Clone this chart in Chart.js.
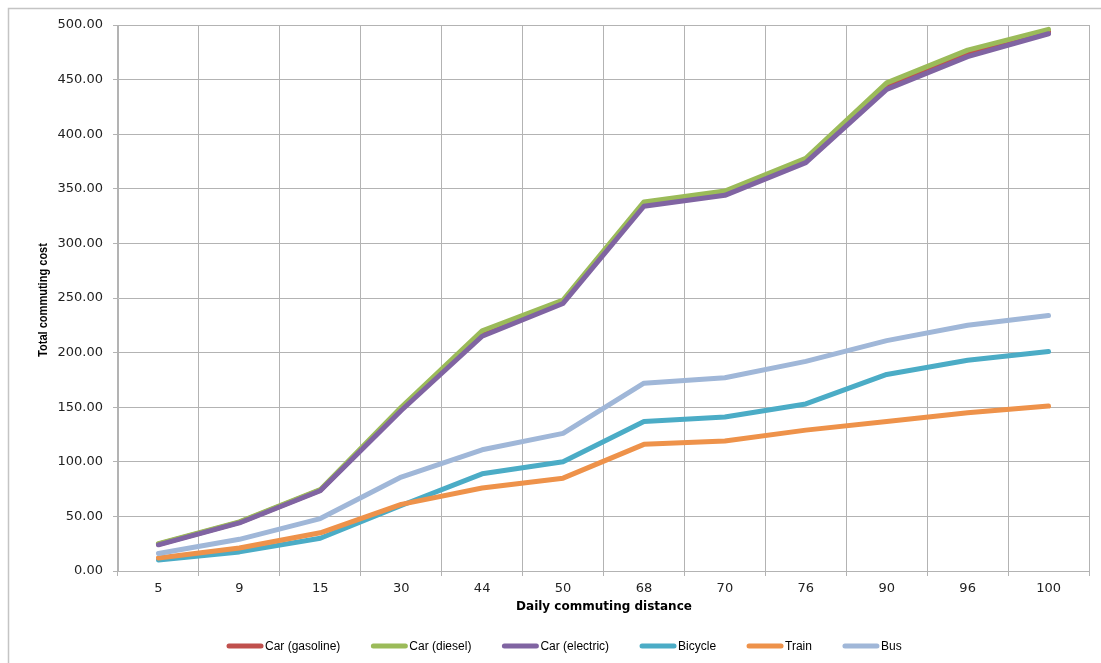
<!DOCTYPE html>
<html>
<head>
<meta charset="utf-8">
<script src="https://cdn.jsdelivr.net/npm/chart.js@4"></script>
<style>
  html, body { margin: 0; padding: 0; background: #ffffff; }
  #wrap { width: 1101px; height: 663px; position: relative; }
</style>
</head>
<body>
<div id="wrap"><canvas id="c" width="1101" height="663"></canvas></div>
<script>
// Daily commuting distance (categories)
const distances = ['5', '9', '15', '30', '44', '50', '68', '70', '76', '90', '96', '100'];

// Total commuting cost per mode of transport
const carGasoline = [24.5, 44.5, 74, 148, 217.5, 246.5, 336, 346, 376, 444, 474, 494];
const carDiesel   = [25, 45, 74.5, 150, 220, 248, 338, 348, 378, 447, 477, 496];
const carElectric = [24, 44, 73.5, 147, 215, 245, 334, 344, 374, 441, 471, 492];
const bicycle     = [10, 17.5, 30, 60, 89, 100, 137, 141, 153, 180, 193, 201];
const train       = [12, 21, 35, 61, 76, 85, 116, 119, 129, 137, 145, 151];
const bus         = [16, 29, 48, 86, 111, 126, 172, 177, 192, 211, 225, 234];

const seriesNames  = ['Car (gasoline)', 'Car (diesel)', 'Car (electric)', 'Bicycle', 'Train', 'Bus'];
const seriesValues = [carGasoline, carDiesel, carElectric, bicycle, train, bus];
const seriesColors = ['#C0504D', '#9BBB59', '#8064A2', '#4BACC6', '#EE924A', '#A0B7D8'];

// y axis ticks: 0.00 to 500.00 every 50
const yMin = 0, yMax = 500, yStep = 50;

const gridColor = '#b3b3b3';
const tickFont = { family: '"DejaVu Sans", Verdana, sans-serif', size: 13 };

// Frame, axis titles and legend drawn on top of the chart canvas
const decorations = {
  id: 'decorations',
  beforeDraw(chart) {
    const ctx = chart.ctx;
    ctx.save();
    ctx.fillStyle = '#ffffff';
    ctx.fillRect(0, 0, chart.width, chart.height);
    ctx.strokeStyle = '#c4c4c4';
    ctx.lineWidth = 1.5;
    ctx.strokeRect(8.5, 8.5, chart.width + 20, chart.height + 20);
    ctx.restore();
  },
  afterDraw(chart) {
    const ctx = chart.ctx;
    const area = chart.chartArea;
    ctx.save();
    ctx.fillStyle = '#000000';

    // y axis title
    ctx.save();
    ctx.translate(44, (area.top + area.bottom) / 2 + 2);
    ctx.rotate(-Math.PI / 2);
    ctx.scale(0.92, 1);
    ctx.font = 'bold 12px "Liberation Sans", Arial, sans-serif';
    ctx.textAlign = 'center';
    ctx.textBaseline = 'middle';
    ctx.fillText('Total commuting cost', 0, 0);
    ctx.restore();

    // x axis title
    ctx.font = 'bold 12px "DejaVu Sans", Verdana, sans-serif';
    ctx.textAlign = 'center';
    ctx.textBaseline = 'middle';
    ctx.fillText('Daily commuting distance', 604, 607);

    // legend
    ctx.font = '12px "Liberation Sans", Arial, sans-serif';
    ctx.textAlign = 'left';
    ctx.textBaseline = 'middle';
    const ly = 646;
    let lx = 227;
    chart.data.datasets.forEach((ds) => {
      ctx.strokeStyle = ds.borderColor;
      ctx.lineWidth = 5;
      ctx.lineCap = 'round';
      ctx.beginPath();
      ctx.moveTo(lx + 2, ly);
      ctx.lineTo(lx + 34, ly);
      ctx.stroke();
      ctx.fillStyle = '#000000';
      ctx.fillText(ds.label, lx + 38, ly + 1);
      lx += 38 + ctx.measureText(ds.label).width + 31;
    });
    ctx.restore();
  }
};

const datasets = seriesNames.map((name, i) => ({
  label: name,
  data: seriesValues[i],
  borderColor: seriesColors[i],
  backgroundColor: seriesColors[i],
  borderWidth: 5,
  pointRadius: 0,
  pointHoverRadius: 0,
  tension: 0,
  borderCapStyle: 'round',
  borderJoinStyle: 'round',
  fill: false,
  order: seriesNames.length - i
}));

new Chart(document.getElementById('c'), {
  type: 'line',
  data: { labels: distances, datasets },
  plugins: [decorations],
  options: {
    responsive: false,
    animation: false,
    devicePixelRatio: 1,
    layout: { padding: { left: 0, top: 25, right: 12, bottom: 0 } },
    plugins: {
      legend: { display: false },
      tooltip: { enabled: false },
      title: { display: false }
    },
    scales: {
      x: {
        type: 'category',
        offset: true,
        grid: {
          offset: true,
          color: gridColor,
          lineWidth: 1,
          tickLength: 5,
          drawTicks: true
        },
        border: { color: gridColor, width: 1 },
        ticks: {
          color: '#222222',
          font: tickFont,
          padding: 5,
          maxRotation: 0,
          autoSkip: false
        },
        afterFit(scale) { scale.height = 92; }
      },
      y: {
        min: yMin,
        max: yMax,
        grid: {
          color: gridColor,
          lineWidth: 1,
          tickLength: 5
        },
        border: { color: gridColor, width: 1 },
        ticks: {
          stepSize: yStep,
          color: '#222222',
          font: tickFont,
          padding: 10,
          callback: (v) => Number(v).toFixed(2)
        },
        afterFit(scale) { scale.width = 118; }
      }
    }
  }
});
</script>
</body>
</html>
